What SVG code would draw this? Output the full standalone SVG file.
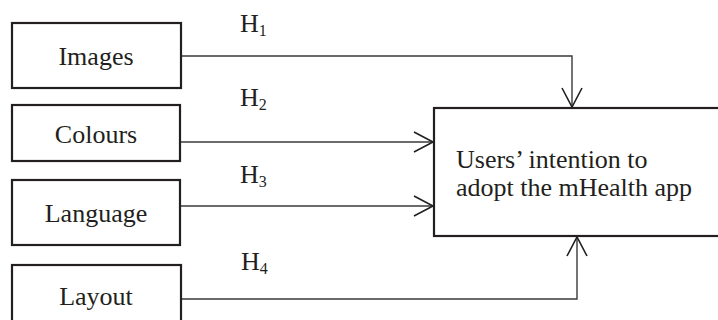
<svg xmlns="http://www.w3.org/2000/svg" width="718" height="320" viewBox="0 0 718 320">
  <style>
    .box { fill: #ffffff; stroke: #231f20; stroke-width: 2.2; }
    .lbl { font-family: "Liberation Serif", "Times New Roman", serif; font-size: 26px; fill: #231f20; }
    .mid { text-anchor: middle; }
    .sub { font-size: 16px; }
    .wire { fill: none; stroke: #3a3a3a; stroke-width: 1.4; }
  </style>
  <defs>
    <marker id="vhead" markerUnits="userSpaceOnUse" markerWidth="24" markerHeight="24" viewBox="0 0 24 24" refX="20" refY="11" orient="auto">
      <path d="M1,1 L20,11 L1,21" fill="none" stroke="#231f20" stroke-width="1.6"/>
    </marker>
  </defs>

  <rect width="718" height="320" fill="#ffffff"/>

  <g id="connectors">
    <polyline class="wire" points="181,56 572,56 572,107" marker-end="url(#vhead)"/>
    <line class="wire" x1="180" y1="142" x2="433" y2="142" marker-end="url(#vhead)"/>
    <line class="wire" x1="180" y1="206" x2="433" y2="206" marker-end="url(#vhead)"/>
    <polyline class="wire" points="181,299 577,299 577,237" marker-end="url(#vhead)"/>
    <text class="lbl" x="240" y="32">H<tspan class="sub" dy="4">1</tspan></text>
    <text class="lbl" x="240" y="106">H<tspan class="sub" dy="4">2</tspan></text>
    <text class="lbl" x="240" y="183">H<tspan class="sub" dy="4">3</tspan></text>
    <text class="lbl" x="241" y="270">H<tspan class="sub" dy="4">4</tspan></text>
  </g>

  <g id="images">
    <rect class="box" x="12" y="23" width="169" height="65"/>
    <text class="lbl mid" x="96" y="65">Images</text>
  </g>
  <g id="colours">
    <rect class="box" x="12" y="105" width="168" height="56"/>
    <text class="lbl mid" x="96" y="143">Colours</text>
  </g>
  <g id="language">
    <rect class="box" x="12" y="180" width="168" height="65"/>
    <text class="lbl mid" x="96" y="222">Language</text>
  </g>
  <g id="layout">
    <rect class="box" x="12" y="265" width="169" height="70"/>
    <text class="lbl mid" x="96" y="305">Layout</text>
  </g>
  <g id="intention">
    <rect class="box" x="434" y="108" width="300" height="128"/>
    <text class="lbl" x="456" y="168">Users’ intention to</text>
    <text class="lbl" x="456" y="196">adopt the mHealth app</text>
  </g>
</svg>
